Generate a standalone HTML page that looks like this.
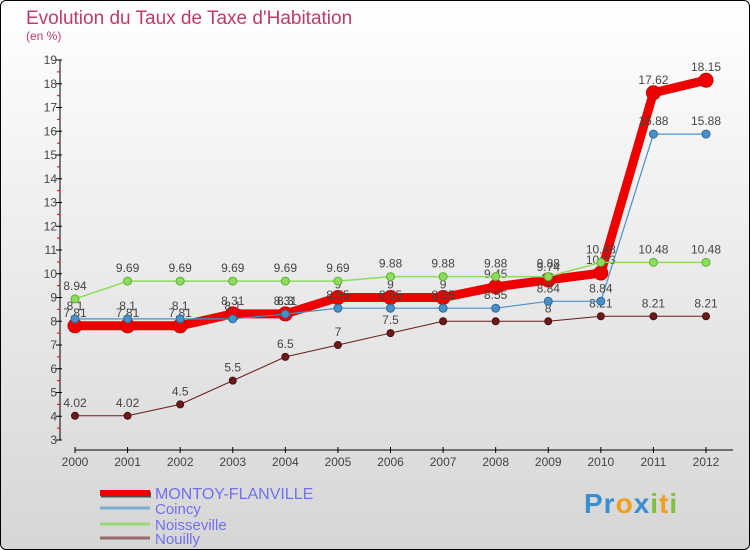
<!DOCTYPE html>
<html><head><meta charset="utf-8"><style>
body{margin:0;width:750px;height:550px;overflow:hidden;font-family:"Liberation Sans",sans-serif}
#wrap{position:absolute;left:0;top:0;width:748px;height:548px;border:1px solid #000;border-radius:6px;background:linear-gradient(#ffffff,#d6d6d6)}
</style></head><body>
<div id="wrap">
<svg id="chart" width="750" height="550" style="position:absolute;left:-1px;top:-1px">
<text x="26" y="24" font-size="19" fill="#c23a66">Evolution du Taux de Taxe d'Habitation</text>
<text x="26" y="40" font-size="12" fill="#c23a66">(en %)</text>
<g id="axes"></g><g id="series"></g><g id="legend"></g>
</svg></div>
<script>
const years=[2000,2001,2002,2003,2004,2005,2006,2007,2008,2009,2010,2011,2012];
const montoy=[7.81,7.81,7.81,8.31,8.31,9,9,9,9.45,9.74,10.03,17.62,18.15];
const coincy=[8.1,8.1,8.1,8.1,8.3,8.55,8.55,8.55,8.55,8.84,8.84,15.88,15.88];
const noisseville=[8.94,9.69,9.69,9.69,9.69,9.69,9.88,9.88,9.88,9.88,10.48,10.48,10.48];
const nouilly=[4.02,4.02,4.5,5.5,6.5,7,7.5,8,8,8,8.21,8.21,8.21];
const yTicks=[3,4,5,6,7,8,9,10,11,12,13,14,15,16,17,18,19];
const NS='http://www.w3.org/2000/svg';
const xs=i=>75+i*(706-75)/12;
const ys=v=>440-(v-3)*(380/16);
function mk(t,a,p){const e=document.createElementNS(NS,t);for(const k in a)e.setAttribute(k,a[k]);p.appendChild(e);return e;}
const ax=document.getElementById('axes');
let l=mk('line',{x1:60,y1:60,x2:60,y2:440,stroke:'#000'},ax);


yTicks.forEach(v=>{
 mk('line',{x1:56,x2:62,y1:ys(v),y2:ys(v),stroke:'#000'},ax);
 if(v<19)mk('line',{x1:57,x2:60,y1:ys(v+0.5),y2:ys(v+0.5),stroke:'#e00'},ax);
 const t=mk('text',{x:57,y:ys(v)+4,'font-size':12,fill:'#444','text-anchor':'end'},ax);t.textContent=v;
 
 
});
l=mk('line',{x1:75,y1:450,x2:733,y2:450,stroke:'#000'},ax);


years.forEach((y,i)=>{
 mk('line',{x1:xs(i),x2:xs(i),y1:447,y2:453,stroke:'#000'},ax);
 const t=mk('text',{x:xs(i),y:466,'font-size':12,fill:'#444','text-anchor':'middle'},ax);t.textContent=y;
 
 
});
const S=document.getElementById('series');
function draw(vals,color,w,r,name,dark){
 const g=mk('g',{},S);
 
 
 mk('polyline',{points:vals.map((v,i)=>xs(i)+','+ys(v)).join(' '),fill:'none',stroke:color,'stroke-width':w,'stroke-linejoin':'round'},g);
 vals.forEach((v,i)=>{
  const c=mk('circle',{cx:xs(i),cy:ys(v),r:r,fill:color,stroke:dark,'stroke-width':1},g);
  
  
  const t=mk('text',{x:xs(i),y:ys(v)-9,'font-size':12,fill:'#444','text-anchor':'middle'},g);t.textContent=v;
  
  
 });
}
draw(nouilly,'#6b1a1a',1,3.5,'nouilly','#4a1010');
draw(montoy,'#ee0000',9,7,'montoy-flanville','#cc0000');
draw(noisseville,'#8ddc5c',1.5,4,'noisseville','#5cb030');
draw(coincy,'#4a90c8',1.2,4,'coincy','#2a6a9a');
const L=document.getElementById('legend');
[['MONTOY-FLANVILLE','#ee0000',6,'#4d4d4d'],['Coincy','#7aaed0',3],['Noisseville','#99d877',3],['Nouilly','#9a6a6a',3]].forEach((d,i)=>{
 const y=[493,508,524,538][i];
 const g=mk('g',{},L);
 
 
 if(d[3])mk('line',{x1:101,x2:151,y1:y+1.5,y2:y+1.5,stroke:d[3],'stroke-width':6},g);
 mk('line',{x1:100,x2:150,y1:y,y2:y,stroke:d[1],'stroke-width':d[2]},g);
 const t=mk('text',{x:155,y:y+6,'font-size':i==0?16:15,fill:'#7070f0'},g);t.textContent=d[0];
});
</script>
<div style="position:absolute;left:584px;top:488px;font:bold 28px 'Liberation Sans',sans-serif;letter-spacing:1px"><span style="color:#3b8fd0">Pr</span><span style="color:#f0a020">o</span><span style="color:#3b8fd0">x</span><span style="color:#80c040">i</span><span style="color:#f0a020">t</span><span style="color:#80c040">i</span></div>
</body></html>
